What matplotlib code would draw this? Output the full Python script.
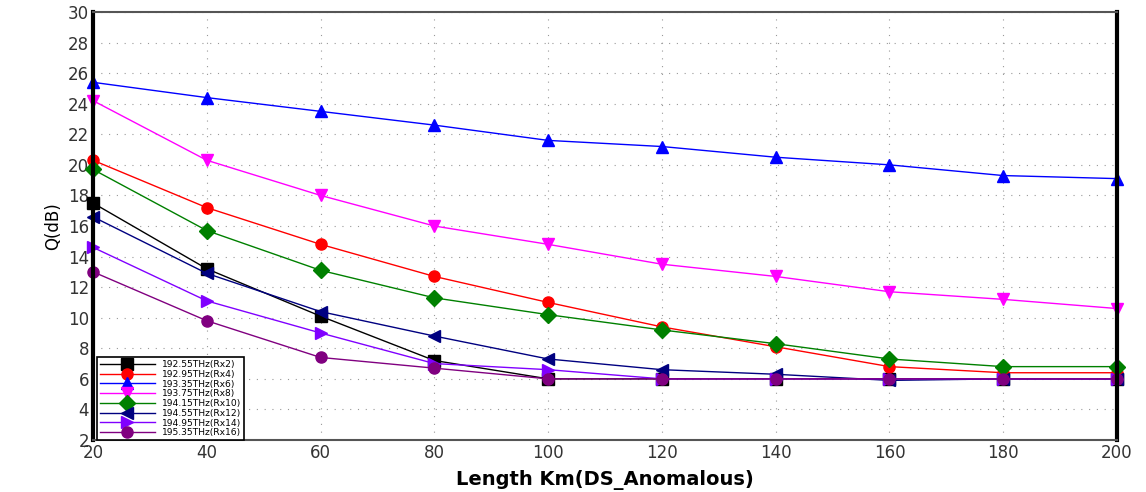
import matplotlib
matplotlib.use('Agg')
import matplotlib.pyplot as plt

# fibre length in km
length = [20, 40, 60, 80, 100, 120, 140, 160, 180, 200]

# Q factor (dB) per channel
q_rx2 = [17.5, 13.2, 10.1, 7.2, 6.0, 6.0, 6.0, 6.0, 6.0, 6.0]
q_rx4 = [20.3, 17.2, 14.8, 12.7, 11.0, 9.4, 8.1, 6.8, 6.4, 6.4]
q_rx6 = [25.4, 24.4, 23.5, 22.6, 21.6, 21.2, 20.5, 20.0, 19.3, 19.1]
q_rx8 = [24.2, 20.3, 18.0, 16.0, 14.8, 13.5, 12.7, 11.7, 11.2, 10.6]
q_rx10 = [19.7, 15.7, 13.1, 11.3, 10.2, 9.2, 8.3, 7.3, 6.8, 6.8]
q_rx12 = [16.6, 12.9, 10.4, 8.8, 7.3, 6.6, 6.3, 5.9, 6.0, 6.0]
q_rx14 = [14.6, 11.1, 9.0, 7.0, 6.6, 6.0, 6.0, 6.0, 6.0, 6.0]
q_rx16 = [13.0, 9.8, 7.4, 6.7, 6.0, 6.0, 6.0, 6.0, 6.0, 6.0]

labels = ['192.55THz(Rx2)', '192.95THz(Rx4)', '193.35THz(Rx6)', '193.75THz(Rx8)',
          '194.15THz(Rx10)', '194.55THz(Rx12)', '194.95THz(Rx14)', '195.35THz(Rx16)']
series = [q_rx2, q_rx4, q_rx6, q_rx8, q_rx10, q_rx12, q_rx14, q_rx16]
colors = ['black', 'red', 'blue', 'magenta', 'green', 'navy', '#8000ff', 'purple']
markers = ['s', 'o', '^', 'v', 'D', '<', '>', 'o']

fig = plt.figure(figsize=(11.46, 4.92), dpi=100)
ax = fig.add_axes([0.0812, 0.1057, 0.8935, 0.8699])

for y, lab, c, m in zip(series, labels, colors, markers):
    ax.plot(length, y, color=c, marker=m, markersize=8, linewidth=1, label=lab, clip_on=False)

ax.set_xlim(20, 200)
ax.set_ylim(2, 30)
ax.set_xticks(range(20, 201, 20))
ax.set_yticks(range(2, 31, 2))
ax.tick_params(length=0, labelsize=12, colors='#333333', pad=3)

ax.grid(True, color='#999999', linestyle=(0, (1, 6)), linewidth=0.8)

for side in ['left', 'right']:
    ax.spines[side].set_linewidth(3)
    ax.spines[side].set_color('black')
for side in ['top', 'bottom']:
    ax.spines[side].set_linewidth(1.5)
    ax.spines[side].set_color('#555555')

ax.set_xlabel('Length Km(DS_Anomalous)', fontsize=14, fontweight='bold', labelpad=6)
ax.set_ylabel('Q(dB)', fontsize=12, labelpad=4)

leg = ax.legend(loc='lower left', bbox_to_anchor=(0.004, 0.0), fontsize=6.6,
                frameon=True, fancybox=False, edgecolor='black', markerscale=1.0,
                handlelength=6, labelspacing=0.08, borderpad=0.3, borderaxespad=0,
                framealpha=1)
leg.get_frame().set_linewidth(1.2)
leg.set_zorder(10)

plt.savefig('out.png', dpi=100)
